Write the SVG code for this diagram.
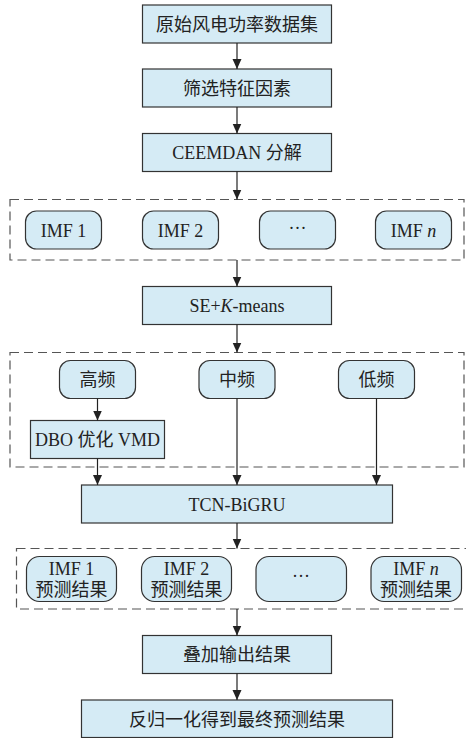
<svg xmlns="http://www.w3.org/2000/svg" width="466" height="738" viewBox="0 0 466 738">
<defs>
<marker id="ah" viewBox="0 0 10 10" refX="10" refY="5" markerWidth="10" markerHeight="10" markerUnits="userSpaceOnUse" orient="auto">
<path d="M0,0.5 L10,5 L0,9.5 Z" fill="#222"/>
</marker>
<style>
.box{fill:#d5ebf5;stroke:#333;stroke-width:1.2}
.dash{fill:none;stroke:#555;stroke-width:1.2;stroke-dasharray:9 5}
.t{font-family:"Liberation Serif","Noto Sans CJK SC",serif;font-size:18px;fill:#222;text-anchor:middle}
.c{stroke:#222;stroke-width:1.2;fill:none;marker-end:url(#ah)}
</style>
</defs>
<rect width="466" height="738" fill="#fff"/>
<g id="group1"><rect class="dash" x="10" y="199.5" width="454" height="60.5"/></g>
<g id="group2"><rect class="dash" x="10" y="352.5" width="454" height="114.5"/></g>
<g id="group3"><rect class="dash" x="16.5" y="548.5" width="452" height="60.5"/></g>
<g id="n1"><rect class="box" x="142.5" y="5" width="189" height="38"/><text class="t" x="237" y="30.5">原始风电功率数据集</text></g>
<g id="n2"><rect class="box" x="142.5" y="69" width="189" height="38"/><text class="t" x="237" y="94.5">筛选特征因素</text></g>
<g id="n3"><rect class="box" x="142.5" y="133.5" width="189" height="38"/><text class="t" x="237" y="159">CEEMDAN 分解</text></g>
<g id="imf1"><rect class="box" x="25.5" y="211" width="76" height="38" rx="11"/><text class="t" x="63.5" y="236.5">IMF 1</text></g>
<g id="imf2"><rect class="box" x="142.5" y="211" width="76" height="38" rx="11"/><text class="t" x="180.5" y="236.5">IMF 2</text></g>
<g id="imfdots"><rect class="box" x="259.5" y="211" width="76" height="38" rx="11"/><text class="t" x="297.5" y="234">···</text></g>
<g id="imfn"><rect class="box" x="375.5" y="211" width="76" height="38" rx="11"/><text class="t" x="413.5" y="236.5">IMF <tspan font-style="italic">n</tspan></text></g>
<g id="se"><rect class="box" x="142.5" y="286.5" width="189" height="38"/><text class="t" x="237" y="312">SE+<tspan font-style="italic">K</tspan>-means</text></g>
<g id="high"><rect class="box" x="59.5" y="360.5" width="76" height="38" rx="11"/><text class="t" x="97.5" y="386">高频</text></g>
<g id="mid"><rect class="box" x="199" y="360.5" width="76" height="38" rx="11"/><text class="t" x="237" y="386">中频</text></g>
<g id="low"><rect class="box" x="338.5" y="360.5" width="76" height="38" rx="11"/><text class="t" x="376.5" y="386">低频</text></g>
<g id="dbo"><rect class="box" x="30.5" y="420.5" width="134" height="38"/><text class="t" x="97.5" y="446">DBO 优化 VMD</text></g>
<g id="tcn"><rect class="box" x="81.5" y="485" width="311" height="38"/><text class="t" x="237" y="510.5">TCN-BiGRU</text></g>
<g id="p1"><rect class="box" x="26.5" y="556.5" width="90" height="45" rx="13"/><text class="t" x="71.5" y="574.5">IMF 1</text><text class="t" x="71.5" y="596">预测结果</text></g>
<g id="p2"><rect class="box" x="141.5" y="556.5" width="90" height="45" rx="13"/><text class="t" x="186.5" y="574.5">IMF 2</text><text class="t" x="186.5" y="596">预测结果</text></g>
<g id="pdots"><rect class="box" x="256" y="556.5" width="90.5" height="45" rx="13"/><text class="t" x="301" y="582">···</text></g>
<g id="pn"><rect class="box" x="371" y="556.5" width="90.5" height="45" rx="13"/><text class="t" x="416" y="574.5">IMF <tspan font-style="italic">n</tspan></text><text class="t" x="416" y="596">预测结果</text></g>
<g id="sum"><rect class="box" x="142.5" y="635.5" width="189" height="38"/><text class="t" x="237" y="661">叠加输出结果</text></g>
<g id="final"><rect class="box" x="81.5" y="700" width="311" height="37.5"/><text class="t" x="237" y="725.5">反归一化得到最终预测结果</text></g>
<g id="connectors">
<line class="c" x1="237" y1="43" x2="237" y2="69"/>
<line class="c" x1="237" y1="107" x2="237" y2="133.5"/>
<line class="c" x1="237" y1="171.5" x2="237" y2="199.5"/>
<line class="c" x1="237" y1="260" x2="237" y2="286.5"/>
<line class="c" x1="237" y1="324.5" x2="237" y2="352.5"/>
<line class="c" x1="97.5" y1="398.5" x2="97.5" y2="420.5"/>
<line class="c" x1="97.5" y1="458.5" x2="97.5" y2="485"/>
<line class="c" x1="237" y1="398.5" x2="237" y2="485"/>
<line class="c" x1="376.5" y1="398.5" x2="376.5" y2="485"/>
<line class="c" x1="237" y1="523" x2="237" y2="548.5"/>
<line class="c" x1="237" y1="609" x2="237" y2="635.5"/>
<line class="c" x1="237" y1="673.5" x2="237" y2="700"/>
</g>
</svg>
